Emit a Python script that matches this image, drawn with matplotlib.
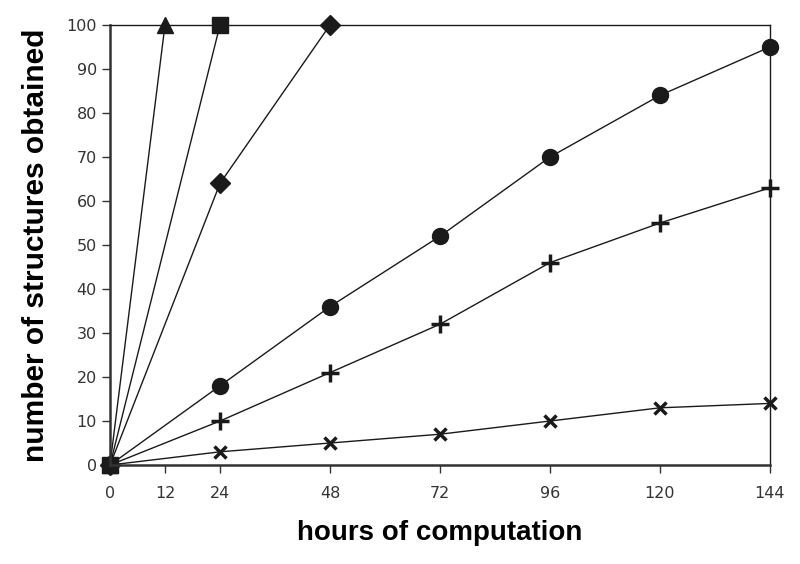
import numpy as np
import matplotlib.pyplot as plt

hours_all = [0, 24, 48, 72, 96, 120, 144]

tri_x, tri_y = [0, 12], [0, 100]
sq_x, sq_y = [0, 24], [0, 100]
dia_x, dia_y = [0, 24, 48], [0, 64, 100]
circ_y = [0, 18, 36, 52, 70, 84, 95]
plus_y = [0, 10, 21, 32, 46, 55, 63]
cross_y = [0, 3, 5, 7, 10, 13, 14]

xticks = [0, 12, 24, 48, 72, 96, 120, 144]
yticks = list(range(0, 101, 10))

fig = plt.figure(figsize=(8, 5.64), dpi=100)
ax = fig.add_axes([0.1375, 0.1755, 0.825, 0.7802])

kw = dict(color="#1a1a1a", linewidth=1.0, clip_on=False)
ax.plot(hours_all, cross_y, marker="x", markersize=9, markeredgewidth=2.5, **kw)
ax.plot(hours_all, plus_y, marker="+", markersize=13, markeredgewidth=2.5, **kw)
ax.plot(hours_all, circ_y, marker="o", markersize=11.5, **kw)
ax.plot(dia_x, dia_y, marker="D", markersize=10, **kw)
ax.plot(tri_x, tri_y, marker="^", markersize=12, **kw)
ax.plot(sq_x, sq_y, marker="s", markersize=11, **kw)

ax.set_xlim(0, 144)
ax.set_ylim(0, 100)
ax.set_xticks(xticks)
ax.set_yticks(yticks)
ax.tick_params(labelsize=11.5, labelcolor="#333333", color="#333333",
               length=6, width=1, direction="out")
ax.tick_params(axis="x", pad=9)

for side in ["top", "right"]:
    ax.spines[side].set_linewidth(1.0)
    ax.spines[side].set_color("#1a1a1a")
for side in ["left", "bottom"]:
    ax.spines[side].set_linewidth(1.8)
    ax.spines[side].set_color("#333333")

ax.set_xlabel("hours of computation", fontsize=20, fontweight="bold",
              family="Liberation Sans", labelpad=14)
ax.set_ylabel("number of structures obtained", fontsize=21.5, fontweight="bold",
              family="Liberation Sans", labelpad=12)

fig.savefig("out.png", dpi=100)
